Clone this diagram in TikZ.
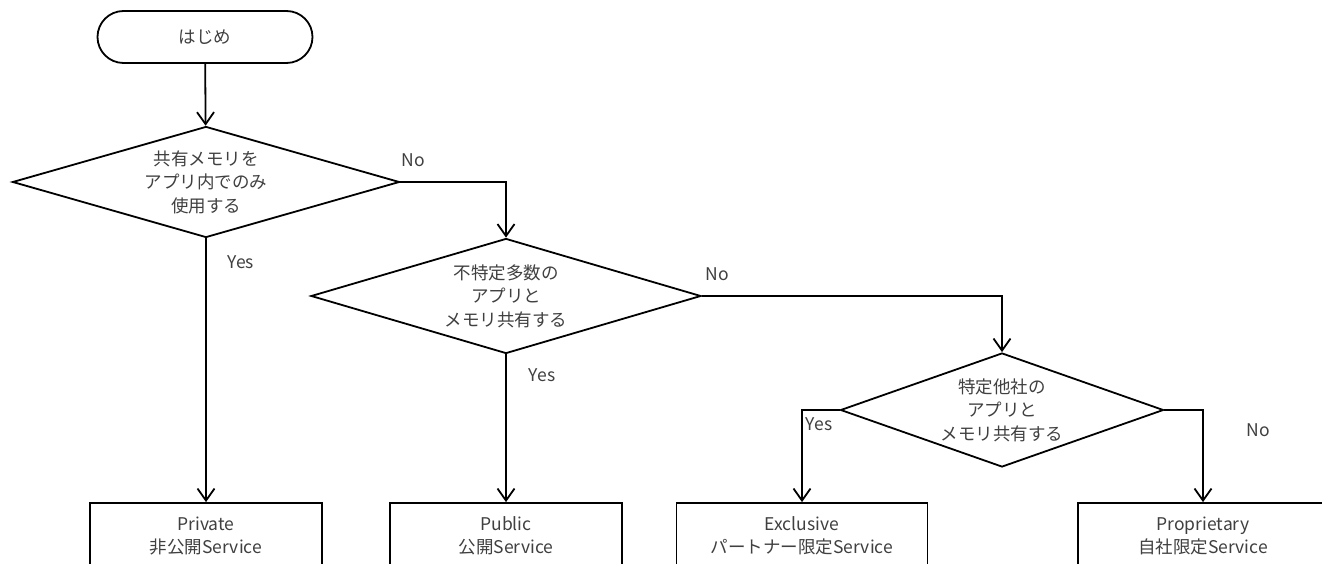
\documentclass[tikz,border=0pt]{standalone}
\usepackage{fontspec}
\setmainfont{Noto Sans CJK JP}
\usetikzlibrary{shapes.geometric,arrows.meta}
\begin{document}
\begin{tikzpicture}[x=1pt,y=-1pt,
  flow/.style={draw=black, line width=1.8pt},
  txt/.style={text=black!75, font=\fontsize{17.5}{23.5}\selectfont, align=center},
  term/.style={flow, txt, rectangle, rounded corners=26pt, minimum width=215pt, minimum height=52pt, inner sep=0pt},
  decision/.style={flow, txt, diamond, inner sep=0pt},
  svc/.style={flow, txt, rectangle, minimum height=66pt, inner sep=0pt},
  conn/.style={line width=1.8pt, -{Straight Barb[length=12pt,width=17pt,line width=1.8pt]}},
  lab/.style={text=black!75, font=\fontsize{17.5}{20}\selectfont, inner sep=0pt}]
\useasboundingbox (0,0) rectangle (1322,564);
\clip (0,0) rectangle (1322,564);
\fill[white] (0,0) rectangle (1322,564);

\node[term] (start) at (205,37) {はじめ};
\node[decision, minimum width=387pt, minimum height=111pt, aspect=3.49] (d1) at (206,182) {共有メモリを\\アプリ内でのみ\\使用する};
\node[decision, minimum width=390pt, minimum height=115pt, aspect=3.39] (d2) at (506,296) {不特定多数の\\アプリと\\メモリ共有する};
\node[decision, minimum width=323pt, minimum height=114pt, aspect=2.83] (d3) at (1002,410) {特定他社の\\アプリと\\メモリ共有する};

\node[svc, minimum width=232pt] (private) at (206,536) {Private\\非公開Service};
\node[svc, minimum width=232pt] (public) at (506,536) {Public\\公開Service};
\node[svc, minimum width=251pt] (exclusive) at (802,536) {Exclusive\\パートナー限定Service};
\node[svc, minimum width=250pt] (proprietary) at (1203,536) {Proprietary\\自社限定Service};

\draw[conn] (start) -- (d1);
\draw[conn] (d1.east) -| (d2.north);
\draw[conn] (d1.south) -- (private.north);
\draw[conn] (d2.east) -| (d3.north);
\draw[conn] (d2.south) -- (public.north);
\draw[conn] (d3.west) -| (exclusive.north);
\draw[conn] (d3.east) -| (proprietary.north);

\node[lab] (no1) at (413,160) {No};
\node[lab] (yes1) at (241,262) {Yes};
\node[lab] (no2) at (717,274) {No};
\node[lab] (yes2) at (542,375) {Yes};
\node[lab] (yes3) at (819,424) {Yes};
\node[lab] (no3) at (1258,430) {No};
\end{tikzpicture}
\end{document}
